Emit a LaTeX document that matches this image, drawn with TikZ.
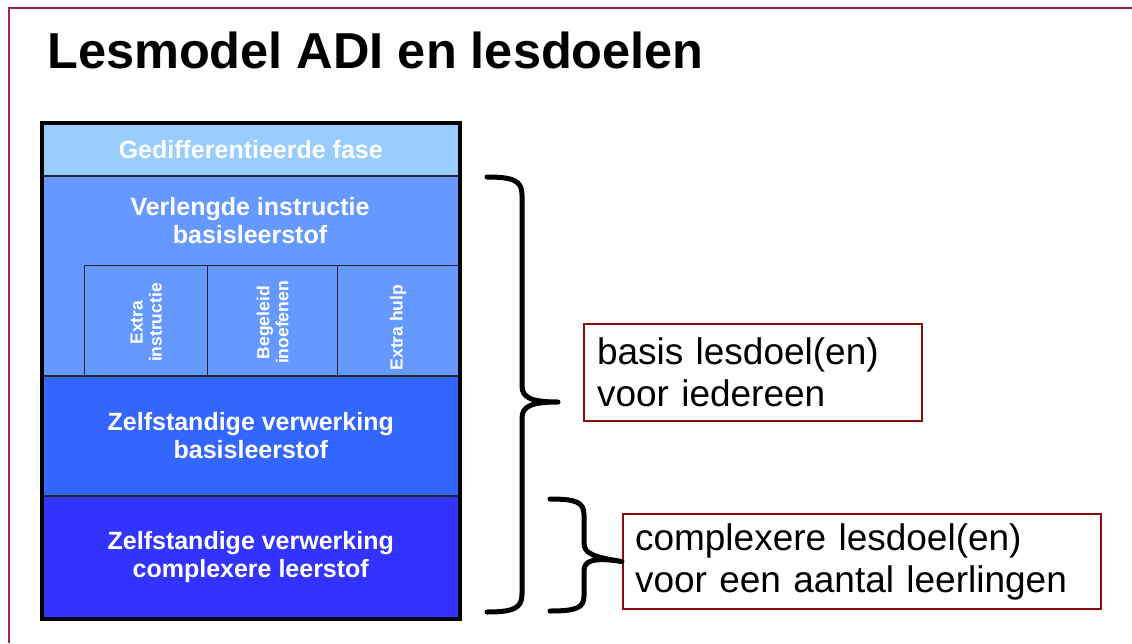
\documentclass[tikz,border=0pt]{standalone}
\usepackage{fontspec}
\setmainfont{Liberation Sans}
\begin{document}
\begin{tikzpicture}[x=1pt,y=-1pt,
  rowbox/.style={draw=black!85, line width=1.5pt, anchor=north west, inner sep=0pt, text=white, font=\fontsize{25}{28}\selectfont\bfseries, align=center},
  subbox/.style={draw=black!85, line width=1.2pt, anchor=north west, inner sep=0pt, fill=midblue},
  vtext/.style={text=white, font=\fontsize{17.5}{19}\selectfont\bfseries, align=center, rotate=90},
  goalbox/.style={draw=goalred, line width=2pt, anchor=north west, inner sep=0pt, text width=#1, align=left, font=\fontsize{37}{42}\selectfont},
  brace/.style={line width=5pt, line cap=round, line join=round}
]
\definecolor{lightblue}{HTML}{99CCFF}
\definecolor{midblue}{HTML}{6699FF}
\definecolor{deepblue}{HTML}{3366FF}
\definecolor{darkblue}{HTML}{3333FF}
\definecolor{framecol}{HTML}{A3244E}
\definecolor{goalred}{HTML}{8B0A0A}
\useasboundingbox (0,0) rectangle (1132,643);
% frame
\draw[framecol, line width=2pt] (9,643) -- (9,8) -- (1132,8);
% title
\node[anchor=base west, inner sep=0pt, font=\fontsize{50.5}{56}\selectfont\bfseries] (title) at (47,68) {Lesmodel ADI en lesdoelen};
% rows
\node[rowbox, fill=lightblue, minimum width=416, minimum height=52] (fase) at (42,123) {Gedifferentieerde fase};
\node[rowbox, fill=midblue, minimum width=416, minimum height=200] (verl) at (42,175) {};
\node[text=white, font=\fontsize{25}{28}\selectfont\bfseries, align=center] (verltxt) at (250,221) {Verlengde instructie\\basisleerstof};
\node[subbox, minimum width=123, minimum height=110] (s1) at (84,265) {};
\node[subbox, minimum width=130, minimum height=110] (s2) at (207,265) {};
\node[subbox, minimum width=121, minimum height=110] (s3) at (337,265) {};
\node[vtext] (t1) at ([yshift=-2]s1.center) {Extra\\instructie};
\node[vtext] (t2) at ([yshift=-2]s2.center) {Begeleid\\inoefenen};
\node[vtext] (t3) at ([yshift=-7]s3.center) {Extra hulp};
\node[rowbox, fill=deepblue, minimum width=416, minimum height=120] (zelf1) at (42,375) {Zelfstandige verwerking\\basisleerstof};
\node[rowbox, fill=darkblue, minimum width=416, minimum height=122] (zelf2) at (42,495) {Zelfstandige verwerking\\complexere leerstof};
% outer border
\draw[black, line width=4pt] (fase.north west) rectangle (zelf2.south east);
% goal boxes
\node[goalbox=312, minimum height=97, inner xsep=13pt] (g1) at (583,323) {basis lesdoel(en)\\voor iedereen};
\node[goalbox=454, minimum height=95, inner xsep=12pt] (g2) at (622,513) {complexere lesdoel(en)\\voor een aantal leerlingen};
% braces
\coordinate (b1top) at (487,177);
\coordinate (b1tip) at (558,402);
\coordinate (b1bot) at (487,612);
\draw[brace] (b1top) .. controls (514,177) and (522,181) .. (522,195) -- (522,386)
  .. controls (522,398) and (532,402) .. (b1tip)
  .. controls (532,402) and (522,406) .. (522,418) -- (522,594)
  .. controls (522,608) and (514,612) .. (b1bot);
\coordinate (b2top) at (550,499);
\coordinate (b2bot) at (550,611);
\draw[brace] (b2top) .. controls (576,499) and (584,502) .. (584,515) -- (584,543)
  .. controls (584,553) and (592,557) .. (g2.west)
  .. controls (592,557) and (584,561) .. (584,571) -- (584,596)
  .. controls (584,608) and (576,611) .. (b2bot);
\end{tikzpicture}
\end{document}
